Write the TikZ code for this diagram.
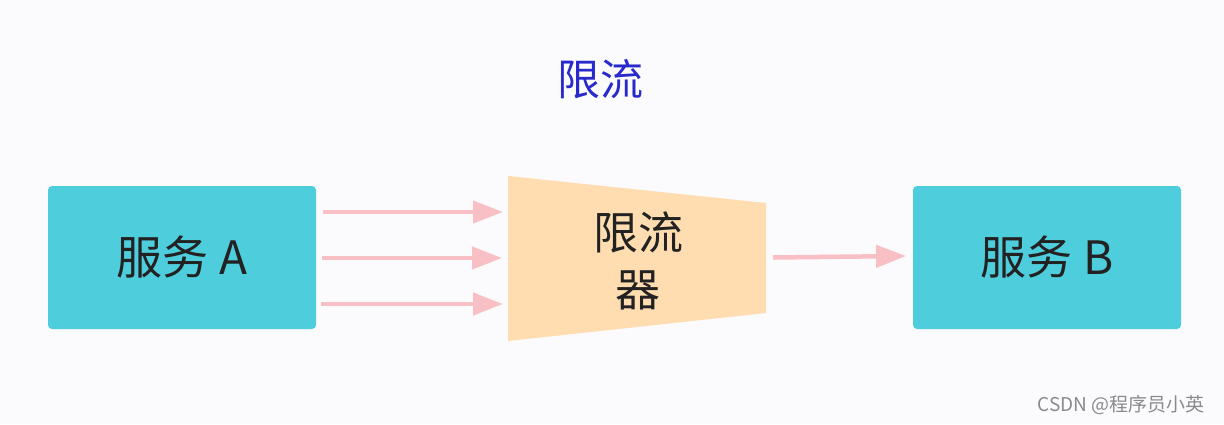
\documentclass[tikz,border=0pt]{standalone}
\usepackage{fontspec}
\setmainfont{Noto Sans CJK SC}
\usetikzlibrary{arrows.meta}
\definecolor{bg}{HTML}{FBFAFD}
\definecolor{boxc}{HTML}{4ECDDD}
\definecolor{trap}{HTML}{FFDDB0}
\definecolor{arr}{HTML}{F8C0C4}
\definecolor{titleblue}{HTML}{2A2ACC}
\definecolor{txt}{HTML}{222222}
\definecolor{wm}{HTML}{8A8A8A}
\tikzset{
  svc/.style={fill=boxc, draw=none, rounded corners=4pt, minimum width=268pt, minimum height=143pt, inner sep=0pt, text=txt, font=\fontsize{46}{52}\selectfont},
  flow/.style={draw=arr, line width=4.5pt, -{Triangle[length=30pt,width=22pt]}},
}
\begin{document}
\begin{tikzpicture}[x=1pt,y=-1pt]
\fill[bg] (0,0) rectangle (1224,424);
\useasboundingbox (0,0) rectangle (1224,424);
\node[text=titleblue, font=\fontsize{43}{48}\selectfont] (title) at (600,79) {限流};
\node[svc] (A) at (182,257.5) {服务 A};
\node[svc] (B) at (1047,257.5) {服务 B};
\fill[trap] (508,176) -- (766,203) -- (766,313) -- (508,341) -- cycle;
\node[text=txt, font=\fontsize{45}{57}\selectfont, align=center] (L) at (638,261) {限流\\器};
\coordinate (a1s) at (323,212); \coordinate (a1e) at (503,212);
\coordinate (a2s) at (322,258); \coordinate (a2e) at (502,258);
\coordinate (a3s) at (321,304); \coordinate (a3e) at (503,304);
\coordinate (a4s) at (773,257.5); \coordinate (a4e) at (906,256);
\draw[flow] (a1s) -- (a1e);
\draw[flow] (a2s) -- (a2e);
\draw[flow] (a3s) -- (a3e);
\draw[flow] (a4s) -- (a4e);
\node[text=wm, font=\fontsize{19}{22}\selectfont, anchor=east] (wmk) at (1208,405) {CSDN @程序员小英};
\end{tikzpicture}
\end{document}
